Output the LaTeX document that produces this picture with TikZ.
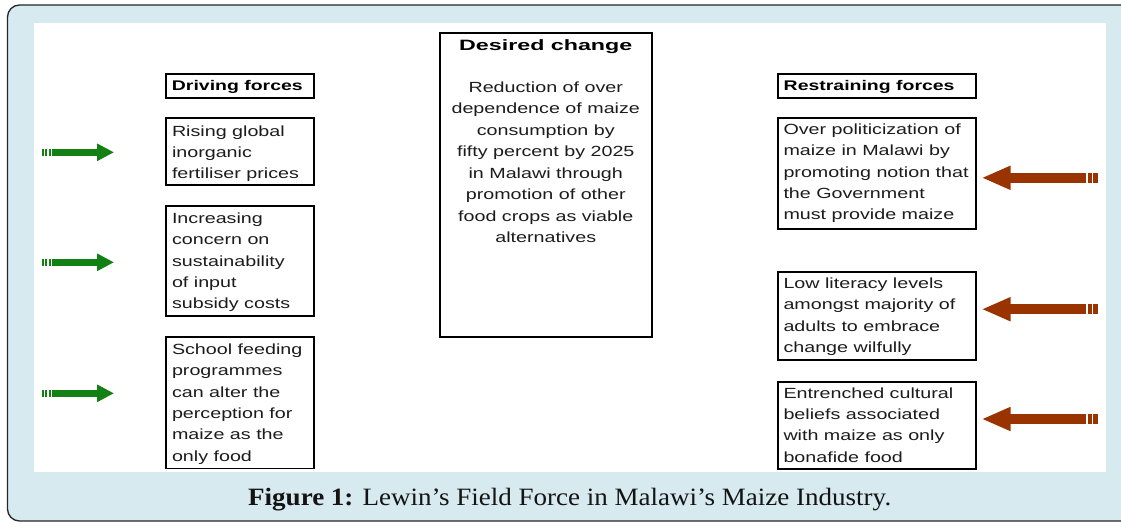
\documentclass[tikz,border=0pt]{standalone}
\usepackage{fontspec}
\usepackage{graphicx}
\setmainfont{Liberation Sans}
\newfontfamily\bodyfont[FakeStretch=1.34]{Liberation Sans}
\newfontfamily\headfont[FakeStretch=1.39]{Liberation Sans Bold}
\newfontfamily\titlefont[FakeStretch=1.55]{Liberation Sans Bold}
\newfontfamily\capfont{Liberation Serif}
\usetikzlibrary{arrows.meta}
\definecolor{framebg}{RGB}{214,234,240}
\definecolor{drivegreen}{RGB}{18,128,18}
\definecolor{restrainred}{RGB}{153,51,0}
\definecolor{textgray}{RGB}{28,28,28}
\begin{document}
\begin{tikzpicture}[x=1pt,y=-1pt,
  forcebox/.style={draw=black, line width=1.8pt, anchor=north west, inner sep=0pt, fill=white},
  boxtext/.style={anchor=north west, inner sep=0pt, align=left, text=textgray,
    font=\bodyfont\fontsize{14.7}{21.3}\selectfont},
  headtext/.style={anchor=north west, inner sep=0pt, text=black,
    font=\headfont\fontsize{14}{16}\selectfont},
  greenbars/.style={drivegreen, line width=6.5pt, dash pattern=on 2.4pt off 1.3pt on 1.7pt off 1.6pt on 2.4pt off 1.2pt},
  greenarrow/.style={drivegreen, line width=6.5pt, -{Triangle[length=17pt,width=16.5pt]}},
  redbars/.style={restrainred, line width=9.5pt, dash pattern=on 5pt off 1.7pt on 4pt off 2pt on 5.6pt off 2pt},
  redarrow/.style={restrainred, line width=9.5pt, -{Triangle[length=29pt,width=22pt]}}
]
\path[use as bounding box, clip] (0,0) rectangle (1121,523);
% frame and panel
\draw[fill=framebg, draw=black!85, line width=1.3pt, rounded corners=12pt] (7.5,5) rectangle (1160,521);
\fill[white] (33.5,22.7) rectangle (1106,471.5);

% headers
\node[forcebox, minimum width=148pt, minimum height=23.4pt] (dh) at (165,73.3) {};
\node[headtext] (dht) at ([shift={(6.7,6.6)}]dh.north west) {Driving forces};
\node[forcebox, minimum width=198pt, minimum height=23.4pt] (rh) at (777,73.3) {};
\node[headtext] (rht) at ([shift={(6.5,6.6)}]rh.north west) {Restraining forces};

% driving boxes
\node[forcebox, minimum width=148pt, minimum height=66.5pt] (d1) at (165,117.3) {};
\node[boxtext] (d1t) at ([shift={(6.8,8)}]d1.north west) {Rising global\\inorganic\\fertiliser prices};
\node[forcebox, minimum width=148pt, minimum height=110pt] (d2) at (165,205) {};
\node[boxtext] (d2t) at ([shift={(6.8,7.7)}]d2.north west) {Increasing\\concern on\\sustainability\\of input\\subsidy costs};
\node[forcebox, minimum width=148pt, minimum height=131.5pt] (d3) at (165,336) {};
\node[boxtext] (d3t) at ([shift={(6.8,7.7)}]d3.north west) {School feeding\\programmes\\can alter the\\perception for\\maize as the\\only food};

% restraining boxes
\node[forcebox, minimum width=198pt, minimum height=111pt] (r1) at (777,117.3) {};
\node[boxtext] (r1t) at ([shift={(6.3,6.5)}]r1.north west) {Over politicization of\\maize in Malawi by\\promoting notion that\\the Government\\must provide maize};
\node[forcebox, minimum width=198pt, minimum height=88pt] (r2) at (777,271) {};
\node[boxtext] (r2t) at ([shift={(6.3,6.8)}]r2.north west) {Low literacy levels\\amongst majority of\\adults to embrace\\change wilfully};
\node[forcebox, minimum width=198pt, minimum height=87.5pt] (r3) at (777,380.7) {};
\node[boxtext] (r3t) at ([shift={(6.3,6.8)}]r3.north west) {Entrenched cultural\\beliefs associated\\with maize as only\\bonafide food};

% desired change
\node[forcebox, minimum width=211.7pt, minimum height=304.3pt] (dc) at (439,31.7) {};
\node[anchor=north, inner sep=0pt, font=\titlefont\fontsize{15}{18}\selectfont, text=black] (dct) at ([yshift=-7.6]dc.north) {Desired change};
\node[anchor=north, inner sep=0pt, align=center, text=textgray, font=\bodyfont\fontsize{14.7}{21.5}\selectfont] (dcb) at ([yshift=-49.8]dc.north) {Reduction of over\\dependence of maize\\consumption by\\fifty percent by 2025\\in Malawi through\\promotion of other\\food crops as viable\\alternatives};

% driving arrows
\foreach \n/\yy in {1/152.3, 2/262.3, 3/393.3} {
  \coordinate (ga\n) at (41.6,\yy);
  \coordinate (gb\n) at (51.8,\yy);
  \coordinate (gc\n) at (114,\yy);
  \draw[greenbars] (ga\n) -- (gb\n);
  \draw[greenarrow] (gb\n) -- (gc\n);
}
% restraining arrows
\foreach \n/\yy in {1/177.8, 2/309.2, 3/419} {
  \coordinate (ra\n) at (1098.3,\yy);
  \coordinate (rb\n) at (1080,\yy);
  \coordinate (rc\n) at (981.5,\yy);
  \draw[redbars] (ra\n) -- (rb\n);
  \draw[redarrow] (rb\n) -- (rc\n);
}

% caption
\node[anchor=base west, inner sep=0pt, text=black!92] (cap) at (248,505.5)
  {\resizebox{643pt}{17.3pt}{\capfont\textbf{Figure 1:} Lewin’s Field Force in Malawi’s Maize Industry.}};
\end{tikzpicture}
\end{document}
